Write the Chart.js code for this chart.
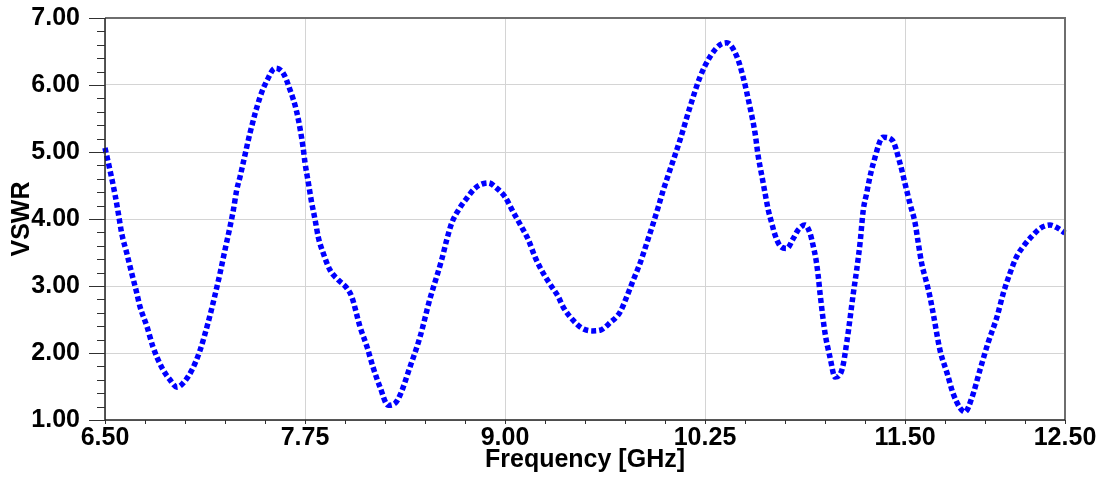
<!DOCTYPE html>
<html><head><meta charset="utf-8">
<script src="https://cdn.jsdelivr.net/npm/chart.js@4"></script>
<style>html,body{margin:0;padding:0;background:#fff}#wrap{width:1102px;height:477px}</style>
</head><body><div id="wrap"><canvas id="c" width="1102" height="477"></canvas></div>
<script>
const freqGHz = [6.500,6.531,6.563,6.583,6.604,6.636,6.667,6.698,6.719,6.763,6.800,6.856,6.906,6.950,6.988,7.044,7.094,7.144,7.188,7.219,7.250,7.281,7.302,7.323,7.344,7.364,7.406,7.469,7.513,7.563,7.613,7.656,7.700,7.738,7.750,7.771,7.792,7.813,7.833,7.864,7.906,7.958,8.011,8.042,8.094,8.138,8.175,8.219,8.269,8.313,8.344,8.406,8.469,8.531,8.573,8.604,8.636,8.667,8.708,8.761,8.813,8.854,8.896,8.948,9.000,9.052,9.104,9.146,9.188,9.239,9.292,9.333,9.363,9.425,9.481,9.544,9.594,9.656,9.719,9.761,9.802,9.844,9.886,9.927,9.958,9.989,10.021,10.094,10.156,10.219,10.281,10.344,10.386,10.450,10.488,10.531,10.563,10.583,10.604,10.625,10.646,10.667,10.688,10.719,10.761,10.802,10.833,10.875,10.906,10.927,10.944,10.958,10.969,11.000,11.031,11.063,11.106,11.138,11.177,11.198,11.219,11.239,11.260,11.281,11.302,11.363,11.419,11.469,11.500,11.531,11.563,11.583,11.604,11.636,11.656,11.677,11.719,11.763,11.800,11.844,11.875,11.919,11.969,12.019,12.075,12.114,12.156,12.198,12.239,12.292,12.344,12.406,12.458,12.500];
const vswr = [5.06,4.73,4.36,4.09,3.79,3.49,3.19,2.90,2.69,2.39,2.09,1.78,1.60,1.49,1.55,1.75,2.04,2.45,2.87,3.19,3.54,3.88,4.13,4.43,4.63,4.84,5.28,5.82,6.07,6.25,6.18,5.93,5.58,5.07,4.84,4.54,4.24,3.99,3.73,3.49,3.24,3.09,2.97,2.84,2.39,2.09,1.79,1.49,1.22,1.25,1.37,1.79,2.24,2.81,3.14,3.39,3.69,3.94,4.13,4.31,4.46,4.52,4.54,4.46,4.33,4.10,3.88,3.69,3.43,3.19,2.99,2.84,2.69,2.49,2.37,2.33,2.34,2.45,2.61,2.84,3.09,3.34,3.64,3.94,4.18,4.43,4.66,5.18,5.67,6.12,6.42,6.60,6.63,6.42,6.12,5.67,5.28,4.93,4.66,4.39,4.13,3.94,3.76,3.60,3.56,3.71,3.84,3.91,3.79,3.59,3.39,3.14,2.89,2.30,1.94,1.64,1.75,2.19,2.89,3.24,3.64,4.13,4.38,4.63,4.83,5.22,5.18,4.83,4.53,4.23,3.94,3.64,3.34,3.04,2.84,2.58,2.04,1.70,1.40,1.18,1.12,1.34,1.75,2.15,2.54,2.89,3.19,3.44,3.59,3.74,3.86,3.91,3.86,3.79];
const xTickValues = [6.50, 7.75, 9.00, 10.25, 11.50, 12.50];
const yTickValues = [1, 2, 3, 4, 5, 6, 7];
const xMinorStep = 0.25;
const yMinorStep = 0.2;

const FONT = 'Arial, "Liberation Sans", sans-serif';

const framePlugin = {
  id: 'frame',
  afterDraw(chart) {
    const ctx = chart.ctx, a = chart.chartArea;
    const xs = chart.scales.x, ys = chart.scales.y;
    ctx.save();
    ctx.strokeStyle = '#6e6e6e';
    ctx.lineWidth = 2;
    ctx.beginPath();
    ctx.moveTo(a.left, a.top); ctx.lineTo(a.right, a.top); ctx.lineTo(a.right, a.bottom);
    ctx.stroke();
    ctx.strokeStyle = '#202020';
    ctx.lineWidth = 1.5;
    ctx.beginPath();
    ctx.moveTo(a.left, a.top); ctx.lineTo(a.left, a.bottom); ctx.lineTo(a.right, a.bottom);
    ctx.stroke();
    ctx.strokeStyle = '#303030';
    ctx.lineWidth = 1;
    const nY = Math.round((ys.max - ys.min) / yMinorStep);
    for (let i = 0; i <= nY; i++) {
      const v = ys.min + i * yMinorStep;
      const py = Math.round(ys.getPixelForValue(v)) + 0.5;
      const major = Math.abs(v - Math.round(v)) < 1e-6;
      ctx.beginPath();
      ctx.moveTo(a.left - (major ? 16 : 8), py);
      ctx.lineTo(a.left, py);
      ctx.stroke();
    }
    const nX = Math.round((xs.max - xs.min) / xMinorStep);
    for (let i = 0; i <= nX; i++) {
      const v = xs.min + i * xMinorStep;
      const px = Math.round(xs.getPixelForValue(v)) + 0.5;
      ctx.beginPath();
      ctx.moveTo(px, a.bottom);
      ctx.lineTo(px, a.bottom + 4);
      ctx.stroke();
    }
    ctx.restore();
  }
};

new Chart(document.getElementById('c'), {
  type: 'line',
  data: {
    datasets: [{
      data: freqGHz.map((f, i) => ({ x: f, y: vswr[i] })),
      borderColor: '#0000ff',
      borderWidth: 5.5,
      borderDash: [5, 3],
      borderCapStyle: 'butt',
      pointRadius: 0,
      fill: false,
      cubicInterpolationMode: 'monotone',
      clip: false
    }]
  },
  options: {
    responsive: false,
    animation: false,
    devicePixelRatio: 1,
    layout: { padding: { top: 18, right: 37, bottom: 2, left: 0 } },
    plugins: { legend: { display: false }, tooltip: { enabled: false } },
    scales: {
      x: {
        type: 'linear',
        min: 6.5,
        max: 12.5,
        afterBuildTicks: s => { s.ticks = xTickValues.map(v => ({ value: v })); },
        afterFit: s => { s.height = 55; s.paddingLeft = 0; s.paddingRight = 0; },
        ticks: {
          callback: v => Number(v).toFixed(2),
          font: { family: FONT, size: 25, weight: 'bold' },
          color: '#000',
          padding: 3,
          maxRotation: 0,
          autoSkip: false
        },
        grid: { color: '#d4d4d4', lineWidth: 1, drawTicks: false },
        border: { display: false },
        title: {
          display: true,
          text: 'Frequency [GHz]',
          font: { family: FONT, size: 25, weight: 'bold' },
          color: '#000',
          padding: { top: 0, bottom: 0 }
        }
      },
      y: {
        min: 1,
        max: 7,
        afterBuildTicks: s => { s.ticks = yTickValues.map(v => ({ value: v })); },
        afterFit: s => { s.width = 105; s.paddingTop = 0; s.paddingBottom = 0; },
        ticks: {
          callback: v => Number(v).toFixed(2),
          font: { family: FONT, size: 25, weight: 'bold' },
          color: '#000',
          padding: 25
        },
        grid: { color: '#d4d4d4', lineWidth: 1, drawTicks: false },
        border: { display: false },
        title: {
          display: true,
          text: 'VSWR',
          font: { family: FONT, size: 25, weight: 'bold' },
          color: '#000',
          padding: { top: 7, bottom: 0 }
        }
      }
    }
  },
  plugins: [framePlugin]
});
</script>
</body></html>
